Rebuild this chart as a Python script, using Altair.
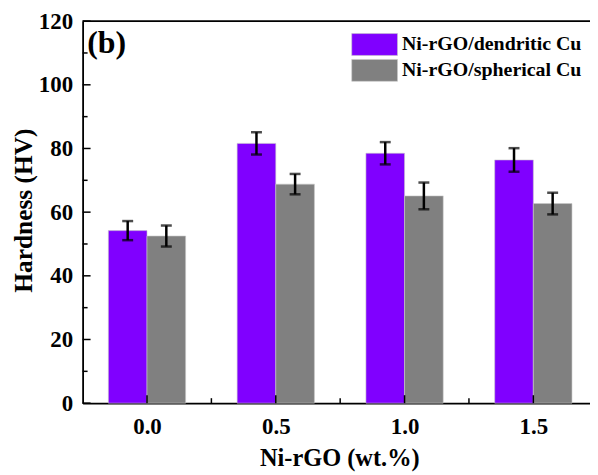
import altair as alt
import pandas as pd

conc = [0.0, 0.5, 1.0, 1.5]
series_names = ["Ni-rGO/dendritic Cu", "Ni-rGO/spherical Cu"]
dendritic = [54.2, 81.6, 78.5, 76.4]
dendritic_err = [3.0, 3.5, 3.5, 3.7]
spherical = [52.5, 68.8, 65.1, 62.7]
spherical_err = [3.3, 3.2, 4.2, 3.4]
colors = ["#8000FF", "#808080"]

y_major = [0, 20, 40, 60, 80, 100, 120]
y_minor = [10, 30, 50, 70, 90, 110]
x_major = [0.0, 0.5, 1.0, 1.5]
x_minor = [0.25, 0.75, 1.25]

rows = []
for i, c in enumerate(conc):
    rows.append({"conc": c, "series": series_names[0], "v": dendritic[i], "e": dendritic_err[i], "side": -1})
    rows.append({"conc": c, "series": series_names[1], "v": spherical[i], "e": spherical_err[i], "side": 1})
df = pd.DataFrame(rows)

FONT = "Liberation Serif"
W, H = 510, 384

xs = alt.Scale(domain=[-0.25, 1.72], nice=False, zero=False)
ys = alt.Scale(domain=[0, 120], nice=False)

base = alt.Chart(df).transform_calculate(
    pos="datum.conc + datum.side * 0.075",
    left="datum.conc + datum.side * 0.075 - 0.075",
    right="datum.conc + datum.side * 0.075 + 0.075",
    lo="datum.v - datum.e",
    hi="datum.v + datum.e",
)

bars = base.mark_bar(stroke="#c8c8c8", strokeWidth=0.6).encode(
    x=alt.X("left:Q", scale=xs,
            axis=alt.Axis(values=x_major, format=".1f", title="Ni-rGO (wt.%)",
                          ticks=False, labelPadding=12, labelFontSize=23,
                          labelFont=FONT, labelFontWeight="bold", labelColor="black",
                          domainColor="black", domainWidth=1.8, grid=False,
                          titleFont=FONT, titleFontSize=24.5, titleFontWeight="bold",
                          titleColor="black", titleX=258, titleY=56,
                          titleBaseline="middle", titleAnchor="middle", titleAlign="center")),
    x2="right:Q",
    y=alt.Y("v:Q", scale=ys,
            axis=alt.Axis(values=y_major, title="Hardness (HV)", ticks=False,
                          labelPadding=10, labelFontSize=23, labelFont=FONT,
                          labelFontWeight="bold", labelColor="black",
                          domainColor="black", domainWidth=1.8, grid=False,
                          titleFont=FONT, titleFontSize=25.5, titleFontWeight="bold",
                          titleColor="black", titleX=-59, titleY=190,
                          titleBaseline="middle", titleAngle=270, titleAlign="center")),
    y2=alt.datum(0),
    color=alt.Color("series:N", scale=alt.Scale(domain=series_names, range=colors),
                    legend=alt.Legend(orient="none", legendX=281.5, legendY=11.5, title=None,
                                      symbolType="M-2,-0.956H2V0.956H-2Z", symbolSize=529,
                                      symbolStrokeColor="#c8c8c8", symbolStrokeWidth=0.6,
                                      symbolOpacity=1,
                                      labelFont=FONT, labelFontSize=20, labelFontWeight="bold",
                                      labelColor="black", labelOffset=15.5, rowPadding=0,
                                      labelLimit=300)),
)

err_rule = base.mark_rule(color="black", strokeWidth=2.5).encode(
    x=alt.X("pos:Q", scale=xs), y=alt.Y("lo:Q", scale=ys), y2="hi:Q"
)
cap_hi = base.mark_tick(color="black", orient="horizontal", size=11, thickness=2.5).encode(
    x=alt.X("pos:Q", scale=xs), y=alt.Y("hi:Q", scale=ys)
)
cap_lo = base.mark_tick(color="black", orient="horizontal", size=11, thickness=2.5).encode(
    x=alt.X("pos:Q", scale=xs), y=alt.Y("lo:Q", scale=ys)
)

ymaj = alt.Chart(pd.DataFrame({"t": y_major})).mark_rule(color="black", strokeWidth=1.5).encode(
    y=alt.Y("t:Q", scale=ys), x=alt.value(0), x2=alt.value(8))
ymin = alt.Chart(pd.DataFrame({"t": y_minor})).mark_rule(color="black", strokeWidth=1.5).encode(
    y=alt.Y("t:Q", scale=ys), x=alt.value(0), x2=alt.value(5))
xmaj = alt.Chart(pd.DataFrame({"t": x_major})).mark_rule(color="black", strokeWidth=1.5).encode(
    x=alt.X("t:Q", scale=xs), y=alt.value(H), y2=alt.value(H - 8))
xmin = alt.Chart(pd.DataFrame({"t": x_minor})).mark_rule(color="black", strokeWidth=1.5).encode(
    x=alt.X("t:Q", scale=xs), y=alt.value(H), y2=alt.value(H - 5))

top_line = alt.Chart(pd.DataFrame({"t": [120]})).mark_rule(color="black", strokeWidth=1.8).encode(
    y=alt.Y("t:Q", scale=ys), x=alt.value(0), x2=alt.value(W))

panel = alt.Chart(pd.DataFrame({"x": [-0.232], "y": [113.2], "label": ["(b)"]})).mark_text(
    font=FONT, fontSize=32, fontWeight="bold", align="left", baseline="middle", color="black"
).encode(x=alt.X("x:Q", scale=xs), y=alt.Y("y:Q", scale=ys), text="label:N")

chart = alt.layer(bars, err_rule, cap_hi, cap_lo, ymaj, ymin, xmaj, xmin, top_line, panel).properties(
    width=W, height=H,
    autosize=alt.AutoSizeParams(type="none"),
    padding={"left": 75, "top": 12, "right": 0, "bottom": 70},
).configure_view(stroke=None).configure(background="white")

chart.save("out.html", embed_options={"renderer": "svg", "actions": False})
